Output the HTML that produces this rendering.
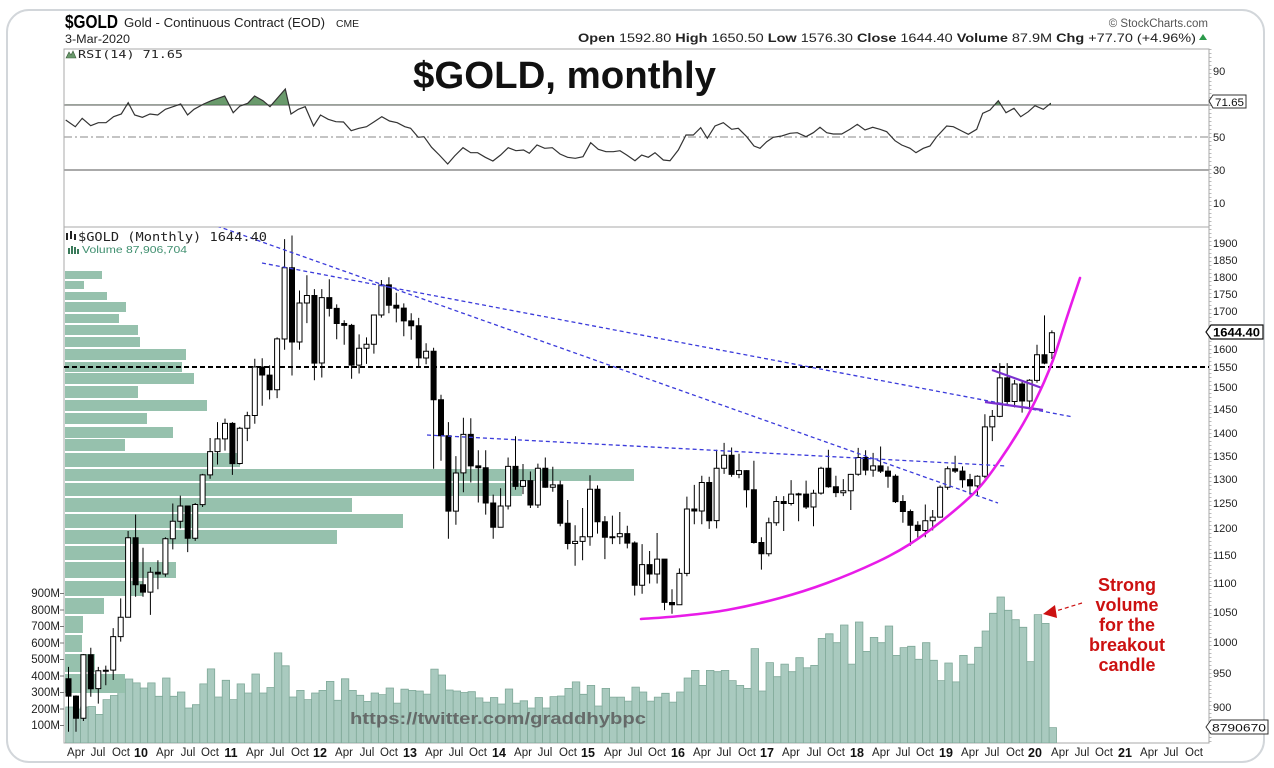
<!DOCTYPE html>
<html><head><meta charset="utf-8"><style>
html,body{margin:0;padding:0;background:#fff;}
svg{display:block;font-family:"Liberation Sans",Arial,sans-serif;}
</style></head><body>
<svg id="c" width="1274" height="768" viewBox="0 0 1274 768" xmlns="http://www.w3.org/2000/svg">
<rect width="1274" height="768" fill="#fff"/>
<rect x="7" y="10" width="1257" height="752" rx="22" ry="22" fill="none" stroke="#d2d6da" stroke-width="2"/>
<defs>
<clipPath id="rsiTop"><rect x="64" y="49" width="1145" height="56"/></clipPath>
<clipPath id="pp"><rect x="64" y="227" width="1145" height="516"/></clipPath>
</defs>
<!-- header -->
<text x="65" y="28" font-size="18" font-weight="bold" textLength="53" lengthAdjust="spacingAndGlyphs">$GOLD</text>
<text x="124" y="27" font-size="12.5" textLength="201" lengthAdjust="spacingAndGlyphs" fill="#222">Gold - Continuous Contract (EOD)</text>
<text x="336" y="27" font-size="10" textLength="23" lengthAdjust="spacingAndGlyphs" fill="#222">CME</text>
<text x="65" y="43" font-size="11.5" textLength="65" lengthAdjust="spacingAndGlyphs" fill="#222">3-Mar-2020</text>
<text x="1208" y="27" font-size="11.5" text-anchor="end" fill="#555">© StockCharts.com</text>
<text x="578" y="42" font-size="12" textLength="618" lengthAdjust="spacingAndGlyphs" fill="#222"><tspan font-weight="bold">Open</tspan> 1592.80 <tspan font-weight="bold">High</tspan> 1650.50 <tspan font-weight="bold">Low</tspan> 1576.30 <tspan font-weight="bold">Close</tspan> 1644.40 <tspan font-weight="bold">Volume</tspan> 87.9M <tspan font-weight="bold">Chg</tspan> +77.70 (+4.96%)</text>
<path d="M1199 40 L1203 34 L1207 40 Z" fill="#2a9a4a"/>

<!-- RSI panel -->
<line x1="64" y1="105" x2="1209" y2="105" stroke="#777" stroke-width="1.2"/>
<line x1="64" y1="137" x2="1209" y2="137" stroke="#888" stroke-width="1" stroke-dasharray="8,3,2,3"/>
<line x1="64" y1="170" x2="1209" y2="170" stroke="#777" stroke-width="1.2"/>
<path id="rsifill" clip-path="url(#rsiTop)" fill="#6a9a6c" stroke="#3a5a3a" stroke-width="0.6" d=""/>
<polyline id="rsiline" fill="none" stroke="#333" stroke-width="1.2" points=""/>
<path d="M66 58 L69 52 L71 55 L73 51 L76 58 Z" fill="#6a9a6c" stroke="#3a5a3a" stroke-width="0.6"/>
<text x="78" y="58" font-family="DejaVu Sans Mono, Liberation Mono, monospace" font-size="11" textLength="105" lengthAdjust="spacingAndGlyphs" fill="#222">RSI(14) 71.65</text>
<text x="413" y="88" font-size="38" font-weight="bold" textLength="303" lengthAdjust="spacingAndGlyphs" fill="#111">$GOLD, monthly</text>

<!-- frames -->
<rect x="64" y="49" width="1145" height="694" fill="none" stroke="#aaa" stroke-width="1"/>
<line x1="64" y1="227" x2="1209" y2="227" stroke="#aaa" stroke-width="1"/>
<line x1="1210.5" y1="49" x2="1210.5" y2="743" stroke="#bbb" stroke-width="2" stroke-dasharray="1,3"/>

<!-- right axis RSI labels -->
<g font-size="11" fill="#222">
<text x="1213" y="75">90</text>
<text x="1213" y="141">50</text>
<text x="1213" y="174">30</text>
<text x="1213" y="207">10</text>
</g>
<path d="M1209 101 L1213 95 L1246 95 L1246 108 L1213 108 Z" fill="#fff" stroke="#333" stroke-width="1"/>
<text x="1215" y="106" font-size="11" textLength="29" lengthAdjust="spacingAndGlyphs" fill="#111">71.65</text>

<!-- price panel content -->
<g clip-path="url(#pp)">
<path id="vol" fill="#a9cabf" stroke="#7ea797" stroke-width="0.8" d=""/>
<path id="vbp" fill="#96c1ad" d=""/>
<line x1="64" y1="367" x2="1209" y2="367" stroke="#000" stroke-width="2" stroke-dasharray="5,3"/>
<path id="wick" stroke="#000" stroke-width="1" fill="none" d=""/>
<path id="wb" fill="#fff" stroke="#000" stroke-width="1" d=""/>
<path id="bb" fill="#000" stroke="#000" stroke-width="1" d=""/>
<g stroke="#3b3bdb" stroke-width="1.3" stroke-dasharray="4,3" fill="none">
<line x1="217" y1="226" x2="998" y2="503"/>
<line x1="262" y1="263" x2="1073" y2="417"/>
<line x1="427" y1="435" x2="1007" y2="466"/>
</g>
<g stroke="#7a2fd0" stroke-width="2.2">
<line x1="992" y1="370" x2="1042" y2="388"/>
<line x1="985" y1="402" x2="1043" y2="410"/>
</g>
<path id="curve" fill="none" stroke="#e81ce8" stroke-width="2.6" stroke-linecap="round" d="M641,619 L680,616 L727,610 L780,598 L827,583 L877,561 L910,544 L943,520 L977,491 L1000,460 L1023,424 L1040,391 L1053,360 L1067,317 L1080,278"/>
<text x="350" y="724" font-size="17" font-weight="bold" textLength="296" lengthAdjust="spacingAndGlyphs" fill="#5a5a5a" fill-opacity="0.85">https://twitter.com/graddhybpc</text>
</g>

<path d="M66 233 h2 v7 h-2z M70 231 h2 v8 h-2z M74 234 h2 v6 h-2z" fill="#222"/>
<text x="78" y="241" font-family="DejaVu Sans Mono, Liberation Mono, monospace" font-size="12" textLength="189" lengthAdjust="spacingAndGlyphs" fill="#222">$GOLD (Monthly) 1644.40</text>
<path d="M68 248 h2 v6 h-2z M71 246 h2 v8 h-2z M74 247 h2 v7 h-2z M77 249 h2 v5 h-2z" fill="#3a7a5a"/>
<text x="82" y="253" font-size="10.5" textLength="105" lengthAdjust="spacingAndGlyphs" fill="#3f8f6f">Volume 87,906,704</text>

<!-- right axis price labels -->
<g font-size="11" fill="#222">
<text x="1213" y="247">1900</text>
<text x="1213" y="264">1850</text>
<text x="1213" y="281">1800</text>
<text x="1213" y="298">1750</text>
<text x="1213" y="315">1700</text>
<text x="1213" y="353">1600</text>
<text x="1213" y="371">1550</text>
<text x="1213" y="391">1500</text>
<text x="1213" y="413">1450</text>
<text x="1213" y="437">1400</text>
<text x="1213" y="460">1350</text>
<text x="1213" y="483">1300</text>
<text x="1213" y="507">1250</text>
<text x="1213" y="532">1200</text>
<text x="1213" y="559">1150</text>
<text x="1213" y="587">1100</text>
<text x="1213" y="616">1050</text>
<text x="1213" y="646">1000</text>
<text x="1213" y="677">950</text>
<text x="1213" y="711">900</text>
</g>
<path d="M1206 332 L1211 325 L1263 325 L1263 339 L1211 339 Z" fill="#fff" stroke="#111" stroke-width="1.2"/>
<text x="1213" y="336.5" font-size="11.5" font-weight="bold" textLength="47" lengthAdjust="spacingAndGlyphs" fill="#000">1644.40</text>
<path d="M1206 727 L1211 720 L1268 720 L1268 734 L1211 734 Z" fill="#fff" stroke="#333" stroke-width="1"/>
<text x="1212" y="731.5" font-size="11" textLength="54" lengthAdjust="spacingAndGlyphs" fill="#111">8790670</text>

<!-- left volume labels -->
<g font-size="11.5" fill="#222" text-anchor="end">
<text x="60" y="597">900M</text>
<text x="60" y="614">800M</text>
<text x="60" y="630">700M</text>
<text x="60" y="647">600M</text>
<text x="60" y="663">500M</text>
<text x="60" y="680">400M</text>
<text x="60" y="696">300M</text>
<text x="60" y="713">200M</text>
<text x="60" y="729">100M</text>
</g>
<g stroke="#777" stroke-width="1">
<line x1="60" y1="593.5" x2="64" y2="593.5"/><line x1="60" y1="610" x2="64" y2="610"/><line x1="60" y1="626.5" x2="64" y2="626.5"/>
<line x1="60" y1="643" x2="64" y2="643"/><line x1="60" y1="659.5" x2="64" y2="659.5"/><line x1="60" y1="676" x2="64" y2="676"/>
<line x1="60" y1="692.5" x2="64" y2="692.5"/><line x1="60" y1="709" x2="64" y2="709"/><line x1="60" y1="725.5" x2="64" y2="725.5"/>
</g>

<!-- annotation -->
<g font-size="18" font-weight="bold" fill="#cc1111" text-anchor="middle">
<text x="1127" y="591">Strong</text>
<text x="1127" y="611">volume</text>
<text x="1127" y="631">for the</text>
<text x="1127" y="651">breakout</text>
<text x="1127" y="671">candle</text>
</g>
<line x1="1082" y1="603" x2="1056" y2="611" stroke="#cc1111" stroke-width="1.2" stroke-dasharray="4,3"/>
<path d="M1043 614 L1055 605 L1057 618 Z" fill="#cc1111"/>

<!-- x axis labels -->
<g font-size="11.5" fill="#222" text-anchor="middle">
<text x="76" y="756">Apr</text><text x="98" y="756">Jul</text><text x="121" y="756">Oct</text>
<text x="165" y="756">Apr</text><text x="188" y="756">Jul</text><text x="210" y="756">Oct</text>
<text x="255" y="756">Apr</text><text x="277" y="756">Jul</text><text x="300" y="756">Oct</text>
<text x="344" y="756">Apr</text><text x="367" y="756">Jul</text><text x="389" y="756">Oct</text>
<text x="434" y="756">Apr</text><text x="456" y="756">Jul</text><text x="478" y="756">Oct</text>
<text x="523" y="756">Apr</text><text x="545" y="756">Jul</text><text x="568" y="756">Oct</text>
<text x="613" y="756">Apr</text><text x="635" y="756">Jul</text><text x="657" y="756">Oct</text>
<text x="702" y="756">Apr</text><text x="724" y="756">Jul</text><text x="747" y="756">Oct</text>
<text x="791" y="756">Apr</text><text x="814" y="756">Jul</text><text x="836" y="756">Oct</text>
<text x="881" y="756">Apr</text><text x="903" y="756">Jul</text><text x="925" y="756">Oct</text>
<text x="970" y="756">Apr</text><text x="992" y="756">Jul</text><text x="1015" y="756">Oct</text>
<text x="1060" y="756">Apr</text><text x="1082" y="756">Jul</text><text x="1104" y="756">Oct</text>
<text x="1149" y="756">Apr</text><text x="1171" y="756">Jul</text><text x="1194" y="756">Oct</text>
</g>
<g font-size="12.5" font-weight="bold" fill="#111" text-anchor="middle">
<text x="141" y="757">10</text><text x="231" y="757">11</text><text x="320" y="757">12</text>
<text x="410" y="757">13</text><text x="499" y="757">14</text><text x="588" y="757">15</text>
<text x="678" y="757">16</text><text x="767" y="757">17</text><text x="857" y="757">18</text>
<text x="946" y="757">19</text><text x="1035" y="757">20</text><text x="1125" y="757">21</text>
</g>
</svg>
<script>
(function(){
var P=[[942,960,865,916],[916,917,865,884],[884,980,880,979],[979,990,915,927],[927,960,905,954],[954,962,932,955],[955,1022,940,1008],[1008,1072,1000,1040],[1040,1195,1040,1182],[1182,1227,1075,1096],
[1096,1163,1075,1083],[1083,1127,1044,1118],[1118,1140,1088,1115],[1115,1183,1110,1180],[1180,1249,1160,1214],[1214,1265,1200,1244],[1244,1245,1155,1181],[1181,1250,1176,1247],[1247,1310,1242,1308],[1308,1388,1300,1358],[1358,1424,1330,1386],[1386,1432,1360,1421],
[1421,1424,1308,1332],[1332,1413,1330,1410],[1410,1448,1381,1439],[1439,1577,1420,1556],[1556,1578,1462,1536],[1536,1560,1477,1500],[1500,1632,1480,1628],[1628,1912,1600,1826],[1826,1923,1535,1620],[1620,1760,1600,1725],[1725,1804,1670,1746],[1746,1764,1523,1566],
[1566,1764,1530,1740],[1740,1792,1688,1710],[1710,1721,1627,1669],[1669,1678,1613,1664],[1664,1668,1527,1561],[1561,1640,1540,1604],[1604,1632,1564,1614],[1614,1692,1590,1692],[1692,1790,1685,1776],[1776,1798,1697,1719],[1719,1754,1672,1711],[1711,1724,1635,1676],
[1676,1697,1626,1663],[1663,1684,1555,1579],[1579,1617,1563,1596],[1596,1605,1321,1476],[1476,1488,1338,1393],[1393,1424,1180,1234],[1234,1348,1207,1312],[1312,1434,1272,1396],[1396,1433,1292,1327],[1327,1361,1251,1323],[1323,1361,1227,1250],[1250,1267,1180,1202],
[1202,1280,1202,1244],[1244,1345,1237,1326],[1326,1392,1277,1284],[1284,1331,1268,1296],[1296,1315,1240,1246],[1246,1332,1240,1322],[1322,1345,1281,1282],[1282,1325,1273,1287],[1287,1296,1204,1210],[1210,1256,1160,1171],[1171,1206,1130,1175],[1175,1240,1140,1184],
[1184,1307,1167,1278],[1278,1286,1190,1213],[1213,1224,1142,1183],[1183,1225,1170,1184],[1184,1232,1170,1190],[1190,1205,1162,1172],[1172,1175,1077,1095],[1095,1170,1080,1132],[1132,1157,1098,1115],[1115,1191,1098,1142],[1142,1142,1052,1065],[1065,1088,1046,1061],
[1061,1125,1061,1116],[1116,1263,1111,1238],[1238,1287,1208,1234],[1234,1306,1208,1292],[1292,1304,1199,1215],[1215,1362,1200,1322],[1322,1377,1310,1350],[1350,1367,1304,1309],[1309,1353,1301,1317],[1317,1318,1241,1277],[1277,1338,1171,1173],[1173,1183,1123,1152],
[1152,1221,1147,1211],[1211,1264,1205,1253],[1253,1264,1195,1249],[1249,1297,1245,1268],[1268,1271,1214,1268.5],[1268,1296,1238,1242],[1242,1277,1204,1270],[1270,1325,1267,1322],[1322,1362,1281,1283],[1283,1306,1262,1271],[1271,1299,1264,1275],[1275,1310,1236,1309],
[1309,1366,1306,1345],[1345,1361,1307,1318],[1318,1355,1304,1327],[1327,1369,1312,1316],[1316,1326,1281,1305],[1305,1309,1250,1253],[1253,1266,1211,1233],[1233,1237,1167,1206],[1206,1214,1180,1196],[1196,1247,1183,1215],[1215,1236,1196,1222],[1222,1286,1221,1282],
[1282,1326,1277,1321],[1321,1349,1312,1316],[1316,1326,1281,1298],[1298,1310,1267,1285],[1285,1307,1266,1305],[1305,1442,1301,1413],[1413,1452,1381,1437],[1437,1566,1435,1529],[1529,1566,1465,1472],[1472,1524,1458,1514],[1514,1519,1446,1473],[1473,1526,1454,1523],
[1523,1613,1517,1587],[1587,1691,1563,1566],[1592.8,1650.5,1576.3,1644.4]];
var V=[212,200,212,215,167,257,282,352,382,358,327,358,277,388,277,303,206,226,352,443,273,374,257,352,297,412,297,330,540,462,273,313,257,297,313,367,253,383,313,283,246,297,287,327,236,320,313,
309,290,442,406,315,309,300,305,267,242,270,230,321,235,250,206,270,206,275,279,
325,364,289,343,218,325,272,272,248,333,303,248,272,295,242,303,388,434,343,434,426,434,372,343,325,566,309,481,396,472,426,511,450,464,628,656,602,709,472,727,549,634,602,703,525,572,580,501,602,495,372,479,364,525,472,574,673,780,879,798,741,695,487,772,719,87];
var VB=[[271,279,102],[281,289,84],[292,300,107],[302,312,126],[314,323,119],[325,335,138],[337,347,140],[349,360,186],[362,372,182],[373,384,194],[386,398,138],[400,411,207],[413,424,147],[427,438,173],[439,451,125],[453,467,240],[469,481,634],[483,496,522],[498,512,352],[514,528,403],[530,544,337],[546,560,130],[562,578,176],[581,596,143],[598,614,104],[616,633,83],[635,652,82],[654,672,95],[674,693,125]];
function Y(p){return 243+621*Math.log(1900/p);}
function f(n){return n.toFixed(1);}
var w='',b='',wt='',i;
for(i=0;i<P.length;i++){var o=P[i][0],h=P[i][1],l=P[i][2],c=P[i][3];var x=68.5+7.45*i;
w+='M'+f(x)+' '+f(Y(h))+'V'+f(Y(l));
var yt=Y(Math.max(o,c)),yb=Y(Math.min(o,c));var hh=Math.max(yb-yt,1);
var r='M'+f(x-2.5)+' '+f(yt)+'h5v'+f(hh)+'h-5Z';
if(c<o)b+=r;else wt+=r;}
document.getElementById('wick').setAttribute('d',w);
document.getElementById('bb').setAttribute('d',b);
document.getElementById('wb').setAttribute('d',wt);
var vd='';
for(i=0;i<V.length;i++){var x0=65.7+7.45*i,x1=x0+7.45,t=742-V[i]*0.165;vd+='M'+f(x0)+' 743V'+f(t)+'H'+f(x1)+'V743Z';}
document.getElementById('vol').setAttribute('d',vd);
var bd='';
for(i=0;i<VB.length;i++){bd+='M65 '+VB[i][0]+'H'+VB[i][2]+'V'+VB[i][1]+'H65Z';}
document.getElementById('vbp').setAttribute('d',bd);
var R="65.7,120 75.3,126.7 82.2,118.3 90.7,125.7 98.3,122.7 106,122.7 113.6,116.7 121.3,114 128.2,102.7 134.7,115 142.4,117.3 150,114 157.7,115 165.4,109.3 173,106.7 180.7,104 187.6,115 194,109.3 203.7,104 211.3,100.7 224.7,96 233.2,112.7 240,106 247.7,103.3 254.6,96 263,100.7 270,106.7 285.3,89 291,114 298.3,109.3 305.2,106.7 313.6,126 320.5,115 328.2,119.3 335.9,121.7 343.5,122 351.2,130.7 358.9,128.3 366.5,126.7 374.2,121.7 381.8,116.7 389.5,121 397.2,122.7 404.8,126.7 410.6,128.3 418.2,137.3 424,136.7 431.6,147.3 439.3,155 447.7,164 454.6,156 463,147.7 470.7,152.7 477.6,152.7 485.3,157.3 492.9,161 500.6,155 508.2,147.7 515.9,150.7 523.6,150 529.3,153.3 537,145 544.7,148.3 552.3,147.7 560,154 567.6,157.3 575.3,158.3 583,156.7 590.7,142.7 598.3,149.3 606,151.7 613.3,151.7 620,150.7 626.7,155 635,160.7 641.7,155 648.3,157.3 655,152.7 663.3,160 670,160.7 678.3,150 686,135 693.3,135 700.7,127.7 707.3,138.3 715,126 723.3,122.7 731.7,129.3 738.3,128.3 746.7,136.7 754,146 760,148.3 766.7,141.7 773.3,137.3 781.7,136 790,133.3 797.3,132.7 806,136.7 813.3,132.7 820,127.3 826.7,132.7 833.3,134 841.7,134 850,129.3 857.3,124.3 865,130 872.7,127.3 880,129.3 886.7,131.7 895,140.7 901.7,145 910,148.3 916,152.7 923.3,148.3 930,146 936.7,136.7 946.7,126 953.3,126.7 961.7,131 968.3,134.3 976.7,129.3 982.7,113.3 990,110 998.3,100.7 1006,112.7 1014,108.3 1020.7,116.7 1028.3,111.7 1035,105.7 1043.3,109.3 1050.7,103.3";
document.getElementById('rsiline').setAttribute('points',R);
document.getElementById('rsifill').setAttribute('d','M65.7,105 L'+R.split(' ').join(' L')+' L1050.7,105 Z');
var C=[[641,619],[680,616],[727,610],[780,598],[827,583],[877,562],[910,544],[943,520],[977,490],[1000,460],[1023,424],[1040,391],[1053,360],[1067,317],[1080,278]];
var d='M'+C[0][0]+','+C[0][1];
for(i=0;i<C.length-1;i++){var p0=C[Math.max(i-1,0)],p1=C[i],p2=C[i+1],p3=C[Math.min(i+2,C.length-1)];
d+=' C'+f(p1[0]+(p2[0]-p0[0])/6)+','+f(p1[1]+(p2[1]-p0[1])/6)+' '+f(p2[0]-(p3[0]-p1[0])/6)+','+f(p2[1]-(p3[1]-p1[1])/6)+' '+p2[0]+','+p2[1];}
document.getElementById('curve').setAttribute('d',d);
})();
</script>
</body></html>
